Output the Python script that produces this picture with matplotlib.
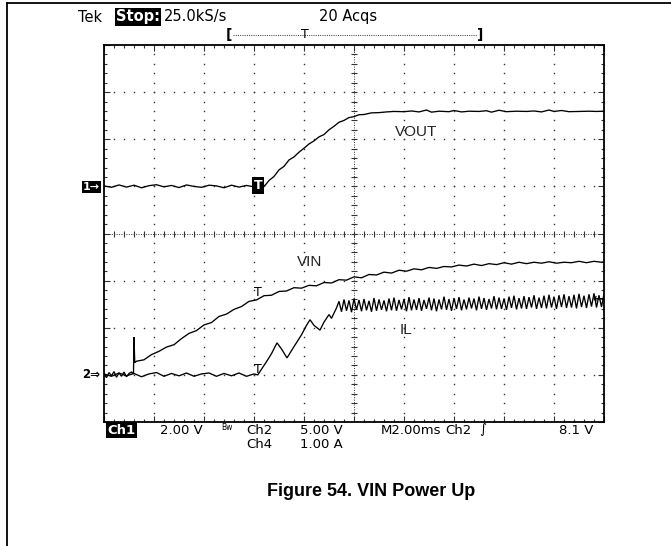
"""Oscilloscope capture of the VIN power-up sequence: VOUT, VIN and inductor current."""

from __future__ import annotations

import matplotlib

matplotlib.use("Agg")
import matplotlib.pyplot as plt
import numpy as np
from matplotlib.lines import Line2D

WIDTH_PX, HEIGHT_PX = 671, 546
DPI = 100

# Graticule position in output pixels; the screen is 10 x 8 divisions.
SCREEN_LEFT, SCREEN_RIGHT = 104, 604
SCREEN_TOP, SCREEN_BOTTOM = 45, 422

MS_PER_DIV = 2.0
# per-division scale and ground position (divisions from bottom)
VOUT_SCALE, VOUT_GROUND = 2.0, 5.0
VIN_SCALE, VIN_GROUND = 5.0, 1.0
IL_SCALE, IL_GROUND = 1.0, 1.0
TRIGGER_LEVEL_V = 8.1
TRIGGER_MS = 6.16

# Ch1 - VOUT (V)
vout_t = [
    0.0, 0.3, 0.6, 0.9, 1.2, 1.5, 1.8, 2.1, 2.4, 2.7, 3.0, 3.3, 3.6, 3.9, 4.2,
    4.5, 4.8, 5.1, 5.4, 5.7, 6.0, 6.3,
    6.45, 6.6, 6.8, 7.0, 7.2, 7.4, 7.6, 7.8, 8.0, 8.2, 8.4, 8.6, 8.8, 9.0,
    9.2, 9.4, 9.6, 9.8, 10.0, 10.2, 10.4, 10.7, 11.0,
    11.3, 11.6, 12.0, 12.3, 12.6, 12.9, 13.1, 13.4, 13.8, 14.0, 14.3, 14.6,
    15.0, 15.3, 15.5, 15.8, 16.1, 16.5, 16.9, 17.2, 17.5, 17.8, 18.0, 18.3,
    18.6, 19.0, 19.4, 19.7, 20.0,
]
vout_v = [
    0.02, -0.04, 0.06, -0.03, 0.05, -0.06, 0.03, 0.07, -0.02, 0.04, -0.05,
    0.06, 0.0, -0.04, 0.05, 0.02, -0.06, 0.05, -0.03, 0.04, -0.02, 0.0,
    0.05, 0.25, 0.42, 0.7, 0.85, 1.12, 1.25, 1.45, 1.62, 1.8, 1.93, 2.1,
    2.2, 2.4, 2.55, 2.72, 2.8, 2.92, 2.96, 3.04, 3.05, 3.12, 3.13,
    3.16, 3.18, 3.17, 3.2, 3.16, 3.24, 3.15, 3.19, 3.17, 3.22, 3.16, 3.19,
    3.18, 3.21, 3.15, 3.23, 3.17, 3.19, 3.18, 3.2, 3.16, 3.24, 3.18, 3.22,
    3.17, 3.18, 3.19, 3.18, 3.19,
]

# Ch2 - VIN (V)
vin_t = [
    0.0, 0.1, 0.2, 0.3, 0.4, 0.5, 0.6, 0.7, 0.8, 0.9, 1.0, 1.1, 1.18,
    1.2, 1.23,
    1.3, 1.6, 1.9, 2.2, 2.5, 2.8, 3.1, 3.4, 3.7, 4.0, 4.3, 4.6, 4.9, 5.2,
    5.5, 5.8, 6.1, 6.4, 6.7, 7.0, 7.3, 7.6, 7.9, 8.2, 8.5, 8.8, 9.1, 9.4,
    9.7, 10.0, 10.3, 10.6, 10.9, 11.2, 11.5, 11.8, 12.1, 12.4, 12.7, 13.0,
    13.3, 13.6, 13.9, 14.2, 14.5, 14.8, 15.1, 15.4, 15.7, 16.0, 16.3, 16.6,
    16.9, 17.2, 17.5, 17.8, 18.1, 18.4, 18.7, 19.0, 19.3, 19.6, 19.9, 20.0,
]
vin_v = [
    0.1, -0.3, 0.25, -0.1, 0.35, -0.25, 0.2, -0.15, 0.3, -0.2, 0.15, 0.3, 0.1,
    4.0, 1.3,
    1.45, 1.6, 2.15, 2.5, 2.95, 3.2, 3.85, 4.4, 4.7, 5.3, 5.55, 6.2, 6.45,
    6.95, 7.25, 7.8, 7.95, 8.4, 8.45, 8.85, 8.9, 9.25, 9.2, 9.5, 9.45, 9.8,
    9.75, 10.1, 10.05, 10.4, 10.3, 10.65, 10.6, 10.9, 10.8, 11.1, 11.0,
    11.25, 11.15, 11.4, 11.3, 11.5, 11.45, 11.65, 11.55, 11.75, 11.6, 11.8,
    11.7, 11.9, 11.75, 11.95, 11.8, 11.95, 11.85, 12.0, 11.85, 11.95, 11.9,
    12.05, 11.9, 12.05, 11.95, 12.0,
]

# Ch4 - IL (A), start-up part
il_t = [
    0.0, 0.3, 0.6, 0.9, 1.2, 1.5, 1.8, 2.1, 2.4, 2.7, 3.0, 3.3, 3.6, 3.9,
    4.2, 4.5, 4.8, 5.1, 5.4, 5.7, 6.0,
    6.15, 6.3, 6.5, 6.7, 6.92, 7.1, 7.32, 7.6, 7.9, 8.1, 8.24, 8.4, 8.64,
    8.8, 9.0, 9.1, 9.3,
]
il_a = [
    0.02, -0.03, 0.04, -0.02, 0.03, -0.04, 0.02, 0.05, -0.03, 0.03, -0.02,
    0.04, -0.03, 0.02, 0.04, -0.03, 0.03, -0.02, 0.04, -0.03, 0.02,
    0.0, 0.12, 0.28, 0.45, 0.68, 0.55, 0.36, 0.6, 0.85, 1.05, 1.17, 1.05,
    0.95, 1.12, 1.28, 1.2, 1.42,
]
# Ch4 - IL (A) switching ripple, sampled every 0.1 ms from 9.4 ms
IL_RIPPLE_START_MS = 9.4
IL_RIPPLE_STEP_MS = 0.1
il_ripple_a = [
    1.56, 1.34, 1.60, 1.36, 1.58, 1.33, 1.62, 1.38, 1.59, 1.35, 1.61, 1.37,
    1.57, 1.34, 1.63, 1.36, 1.60, 1.38, 1.58, 1.35, 1.62, 1.37, 1.64, 1.36,
    1.59, 1.39, 1.61, 1.35, 1.65, 1.37, 1.60, 1.38, 1.63, 1.36, 1.59, 1.40,
    1.64, 1.37, 1.62, 1.35, 1.60, 1.39, 1.66, 1.38, 1.61, 1.36, 1.63, 1.40,
    1.65, 1.37, 1.60, 1.39, 1.64, 1.41, 1.62, 1.37, 1.66, 1.40, 1.63, 1.38,
    1.61, 1.41, 1.67, 1.39, 1.64, 1.40, 1.62, 1.38, 1.66, 1.42, 1.68, 1.39,
    1.63, 1.41, 1.67, 1.40, 1.65, 1.43, 1.69, 1.40, 1.64, 1.42, 1.68, 1.41,
    1.70, 1.43, 1.66, 1.40, 1.69, 1.44, 1.71, 1.42, 1.67, 1.43, 1.70, 1.41,
    1.72, 1.44, 1.68, 1.42, 1.71, 1.45, 1.73, 1.43, 1.69, 1.44, 1.72,
]

SCOPE_FONT = "DejaVu Sans"
LABEL_FONT = "Liberation Sans"


def px(x: float, y: float) -> tuple[float, float]:
    """Output pixel position -> figure fraction."""
    return x / WIDTH_PX, 1.0 - y / HEIGHT_PX


def label(fig, x, y, text, size=9.5, ha="left", inverse=False, **kw):
    options = {"family": SCOPE_FONT, "fontsize": size, "ha": ha, "va": "center"}
    if inverse:
        options["color"] = "white"
        options["bbox"] = {"facecolor": "black", "edgecolor": "none", "pad": 1.0}
    options.update(kw)
    fig.text(*px(x, y), text, **options)


def draw_graticule(ax) -> None:
    fine = np.arange(0.2, 10.0, 0.2)
    fine_y = np.arange(0.2, 8.0, 0.2)
    dot = {"ls": "none", "marker": "s", "ms": 1.0, "mew": 0, "color": "#333333"}
    for gx in (1, 2, 3, 4, 6, 7, 8, 9):
        ax.plot(np.full_like(fine_y, gx), fine_y, **dot)
    for gy in (1, 2, 3, 5, 6, 7):
        ax.plot(fine, np.full_like(fine, gy), **dot)

    ax.axvline(5, color="#333333", lw=0.7, ls=(0, (1, 1.5)))
    ax.axhline(4, color="#333333", lw=0.7, ls=(0, (1, 1.5)))
    ax.plot(np.full_like(fine_y, 5), fine_y, ls="none", marker="_", ms=4,
            mew=0.8, color="#333333")
    ax.plot(fine, np.full_like(fine, 4), ls="none", marker="|", ms=4,
            mew=0.8, color="#333333")

    ax.set_xlim(0, 10)
    ax.set_ylim(0, 8)
    ax.set_xticks(range(11))
    ax.set_yticks(range(9))
    ax.set_xticks(np.arange(0, 10.01, 0.2), minor=True)
    ax.set_yticks(np.arange(0, 8.01, 0.2), minor=True)
    ax.tick_params(which="both", direction="in", top=True, right=True,
                   labelbottom=False, labelleft=False, color="#333333")
    ax.tick_params(which="major", length=4, width=0.8)
    ax.tick_params(which="minor", length=2, width=0.8)
    for spine in ax.spines.values():
        spine.set_linewidth(1.3)


def main() -> int:
    fig = plt.figure(figsize=(WIDTH_PX / DPI, HEIGHT_PX / DPI), dpi=DPI)
    fig.patch.set_facecolor("white")
    ax = fig.add_axes([
        SCREEN_LEFT / WIDTH_PX,
        1.0 - SCREEN_BOTTOM / HEIGHT_PX,
        (SCREEN_RIGHT - SCREEN_LEFT) / WIDTH_PX,
        (SCREEN_BOTTOM - SCREEN_TOP) / HEIGHT_PX,
    ])
    draw_graticule(ax)

    trace = {"color": "black", "lw": 0.95, "solid_joinstyle": "miter"}
    il_ripple_t = IL_RIPPLE_START_MS + IL_RIPPLE_STEP_MS * np.arange(len(il_ripple_a))
    il_time = np.concatenate([il_t, il_ripple_t])
    il_value = np.concatenate([il_a, il_ripple_a])

    ax.plot(np.array(vout_t) / MS_PER_DIV,
            VOUT_GROUND + np.array(vout_v) / VOUT_SCALE, **trace)
    ax.plot(np.array(vin_t) / MS_PER_DIV,
            VIN_GROUND + np.array(vin_v) / VIN_SCALE, **trace)
    ax.plot(il_time / MS_PER_DIV, IL_GROUND + il_value / IL_SCALE, **trace)

    # trigger point markers on each trace
    trig_x = TRIGGER_MS / MS_PER_DIV
    ax.text(trig_x, VOUT_GROUND + 0.02, "T", color="white", fontsize=9,
            fontweight="bold", family=SCOPE_FONT, ha="center", va="center",
            zorder=5,
            bbox={"facecolor": "black", "edgecolor": "none", "pad": 1.2})
    ax.text(trig_x, VIN_GROUND + TRIGGER_LEVEL_V / VIN_SCALE, "T",
            fontsize=9, family=SCOPE_FONT, ha="center", va="bottom")
    ax.text(trig_x, IL_GROUND - 0.02, "T", fontsize=9, family=SCOPE_FONT,
            ha="center", va="bottom")
    ax.text(9.98, VIN_GROUND + TRIGGER_LEVEL_V / VIN_SCALE, "\u2190",
            fontsize=9, fontweight="bold", family=SCOPE_FONT, ha="right",
            va="center")

    # trace names
    for x, y, name in ((395, 132, "VOUT"), (297, 262, "VIN"), (400, 330, "IL")):
        fig.text(*px(x, y), name, family=LABEL_FONT, fontsize=11,
                 color="#222222", ha="left", va="center")

    # channel ground markers
    label(fig, 83, 187, "1\u2192", size=8, inverse=True, fontweight="bold")
    label(fig, 82, 375, "2\u21d2", size=8.5, fontweight="bold")

    # header
    label(fig, 78, 17, "Tek", size=10.5)
    label(fig, 116, 17, "Stop:", size=10.5, inverse=True, fontweight="bold")
    label(fig, 164, 17, "25.0kS/s", size=10.5)
    label(fig, 319, 17, "20 Acqs", size=10.5)
    label(fig, 229, 35, "[", size=10, ha="center", fontweight="bold")
    label(fig, 480, 35, "]", size=10, ha="center", fontweight="bold")
    label(fig, 305, 34, "T", size=9, ha="center")
    fig.add_artist(Line2D([233 / WIDTH_PX, 477 / WIDTH_PX], [px(0, 35)[1]] * 2,
                          transform=fig.transFigure, color="#555555", lw=0.8,
                          ls=(0, (1, 1))))

    # status line
    label(fig, 107, 430, "Ch1", size=9.5, inverse=True, fontweight="bold")
    label(fig, 160, 430, "2.00 V", size=9.5)
    label(fig, 221, 428, "Bw", size=5.5)
    label(fig, 246, 430, "Ch2", size=9.5)
    label(fig, 300, 430, "5.00 V", size=9.5)
    label(fig, 381, 430, "M2.00ms", size=9.5)
    label(fig, 445, 430, "Ch2", size=9.5)
    label(fig, 479, 430, "\u222b", size=9.5)
    label(fig, 559, 430, "8.1 V", size=9.5)
    label(fig, 246, 444, "Ch4", size=9.5)
    label(fig, 300, 444, "1.00 A", size=9.5)

    fig.text(*px(371, 492), "Figure 54. VIN Power Up", family=LABEL_FONT,
             fontsize=13, fontweight="bold", ha="center", va="center")

    # page rules
    fig.add_artist(Line2D([px(7, 0)[0]] * 2, [0, px(0, 3)[1]],
                          transform=fig.transFigure, color="black", lw=1.3))
    fig.add_artist(Line2D([px(7, 0)[0], 1], [px(0, 3)[1]] * 2,
                          transform=fig.transFigure, color="black", lw=1.3))

    fig.savefig("out.png", dpi=DPI)
    plt.close(fig)
    return 0


if __name__ == "__main__":
    raise SystemExit(main())
